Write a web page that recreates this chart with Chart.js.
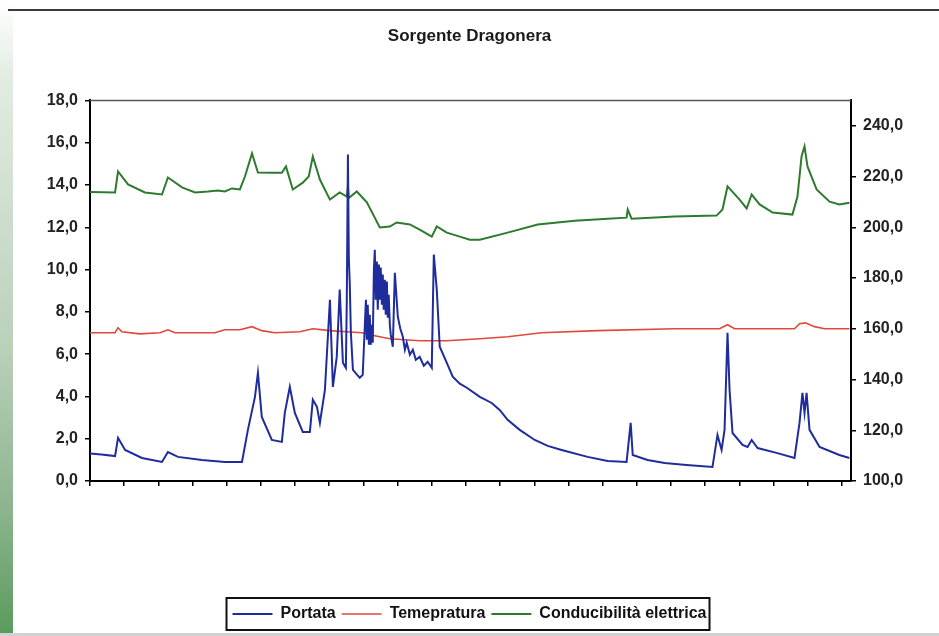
<!DOCTYPE html>
<html>
<head>
<meta charset="utf-8">
<title>Sorgente Dragonera</title>
<script src="https://cdn.jsdelivr.net/npm/chart.js@4.4.1/dist/chart.umd.min.js"></script>
<style>
  html, body { margin: 0; padding: 0; background: #fff; }
  #wrap { position: relative; width: 939px; height: 636px; overflow: hidden; background: #fff; }
  #strip { position: absolute; left: 0; top: 0; width: 13px; height: 636px;
           background: linear-gradient(#ffffff 0%, #e3ece3 12%, #b9d0b9 55%, #8db48e 80%, #5a9a5c 100%); }
  #topline { position: absolute; left: 8px; top: 9px; width: 931px; height: 2px; background: #3a3a3a; }
  #bottomline { position: absolute; left: 0; top: 633px; width: 939px; height: 3px; background: #d2d2d2; }
  canvas { position: absolute; left: 0; top: 0; }
</style>
</head>
<body>
<div id="wrap">
  <div id="strip"></div>
  <div id="topline"></div>
  <div id="bottomline"></div>
  <canvas id="chart" width="939" height="636"></canvas>
</div>
<script>
// x values are days from the start of the record
const portataX = [0, 5, 11.0, 12.3, 15.4, 22.8, 31.6, 34.2, 38.6, 49.1, 59.2, 66.7, 69.3, 72.4, 73.7, 75.4, 79.8, 84.2,
  85.5, 87.7, 89.9, 93.4, 96.5, 97.8, 99.6, 100.9, 103.1, 105.3, 106.6, 108.3, 109.6, 111.0, 112.3, 112.7, 113.2, 113.6,
  114.0, 114.5, 115.4, 118.4, 119.7, 121.1, 121.5, 121.9, 122.4, 122.8, 123.2, 123.7, 124.1, 124.6, 125.0, 125.4, 125.9,
  126.3, 126.8, 127.2, 127.6, 128.1, 128.5, 128.9, 129.4, 129.8, 130.3, 130.7, 131.1, 131.6, 132.0, 132.9, 133.8, 135.1,
  136.2, 137.3, 138.2, 139.0, 140.4, 141.7, 143.0, 144.7, 146.5, 148.2, 150.0, 150.9, 152.2, 153.5, 156.6, 159.2, 162.3,
  165.4, 171.1, 176.3, 179.8, 183.3, 188.6, 195.2, 200.9, 207.0, 218.4, 227.2, 235.5, 237.3, 238.2, 244.7, 252.2, 261.8,
  273.2, 275.4, 277.2, 278.5, 279.8, 280.7, 282.0, 286.4, 288.6, 290.4, 293.0, 301.3, 309.2, 311.4, 312.7, 313.6, 314.5,
  315.8, 320.2, 328.9, 333.3];
const portataY = [1.30, 1.25, 1.18, 2.04, 1.47, 1.09, 0.90, 1.37, 1.14, 0.99, 0.90, 0.90, 2.42, 3.98, 5.12, 3.03, 1.94, 1.85,
  3.22, 4.45, 3.22, 2.32, 2.32, 3.84, 3.51, 2.75, 4.31, 8.57, 4.45, 5.87, 9.05, 5.59, 5.35, 8.50, 15.44, 10.50,
  9.38, 7.00, 5.26, 4.88, 5.02, 8.57, 6.68, 8.34, 6.44, 7.86, 6.44, 7.39, 6.54, 10.00, 10.94, 8.57, 10.38,
  8.10, 10.24, 8.57, 10.09, 8.34, 9.76, 8.10, 9.52, 7.86, 9.43, 7.72, 8.81, 7.39, 6.92, 6.35, 9.85, 7.77,
  7.20, 6.82, 6.21, 6.54, 5.97, 6.21, 5.73, 5.87, 5.45, 5.64, 5.35, 10.71, 9.05, 6.35, 5.59, 4.93, 4.60,
  4.41, 3.98, 3.69, 3.36, 2.89, 2.42, 1.94, 1.66, 1.47, 1.14, 0.95, 0.90, 2.75, 1.23, 0.99, 0.85, 0.76,
  0.66, 2.18, 1.47, 2.42, 7.01, 4.31, 2.27, 1.71, 1.61, 1.94, 1.56, 1.33, 1.09, 2.75, 4.17, 3.22, 4.17,
  2.42, 1.61, 1.23, 1.09];

const tempX = [0, 11.0, 12.3, 14.0, 21.9, 30.7, 34.2, 37.3, 54.8, 59.2, 65.8, 71.1, 75.4, 81.1, 92.1, 97.8, 105.3, 112.7,
  119.3, 122.8, 131.6, 144.7, 156.6, 171.1, 183.3, 198.2, 222.8, 256.6, 276.3, 279.8, 282.9, 309.2, 311.4, 314.0,
  318.0, 322.4, 333.3];
const tempY = [7.01, 7.01, 7.25, 7.06, 6.96, 7.01, 7.15, 7.01, 7.01, 7.15, 7.15, 7.30, 7.11, 7.01, 7.06, 7.20, 7.11, 7.06,
  7.01, 6.92, 6.73, 6.63, 6.63, 6.73, 6.82, 7.01, 7.11, 7.20, 7.20, 7.39, 7.20, 7.20, 7.44, 7.48,
  7.30, 7.20, 7.20];

const condX = [0, 11.0, 12.3, 16.7, 24.1, 31.6, 34.2, 40.4, 46.1, 51.8, 56.1, 59.2, 62.3, 65.8, 68.0, 71.1, 73.7, 80.0,
  84.2, 86.0, 89.0, 93.4, 96.0, 97.8, 100.9, 105.3, 109.6, 112.7, 113.2, 113.6, 117.1, 121.5, 127.2, 131.6, 134.6,
  140.4, 144.7, 150.0, 152.2, 156.6, 162.3, 166.7, 171.1, 183.3, 196.5, 212.7, 227.2, 235.5, 236.0, 237.7, 256.6,
  275.0, 277.6, 279.8, 285.1, 288.2, 290.4, 293.9, 299.6, 308.3, 310.5, 312.3, 313.6, 314.9, 318.9, 324.6, 328.9, 333.3];
const condY = [213.9, 213.7, 222.0, 216.9, 213.7, 212.9, 219.6, 215.7, 213.7, 214.1, 214.5, 214.1, 215.3, 214.9, 220.0, 229.1, 221.6, 221.5,
  221.5, 224.0, 214.9, 217.6, 220.0, 227.9, 218.8, 210.9, 213.7, 212.1, 216.0, 211.5, 214.1, 209.8, 199.9, 200.3, 201.9,
  201.1, 199.1, 196.3, 200.3, 197.9, 196.3, 195.1, 195.1, 197.9, 201.1, 202.6, 203.4, 203.8, 207.0, 203.4, 204.2,
  204.6, 207.0, 216.1, 210.9, 207.4, 212.9, 209.0, 205.8, 205.0, 212.1, 227.9, 231.9, 224.0, 214.9, 210.1, 209.0, 209.7];

const seriesNames = ['Portata', 'Temepratura', 'Conducibilità elettrica'];
const xTicks = [0, 15, 30, 45, 60, 75, 90, 105, 120, 135, 150, 165, 180, 195, 210, 225, 240, 255, 270, 285, 300, 315, 330];
const leftTicks = [0, 2, 4, 6, 8, 10, 12, 14, 16, 18];
const rightTicks = [100, 120, 140, 160, 180, 200, 220, 240];

const pairs = (xs, ys) => xs.map((x, i) => ({ x: x, y: ys[i] }));
const comma = v => Number(v).toFixed(1).replace('.', ',');

Chart.defaults.font.family = "'Liberation Sans', Arial, sans-serif";
Chart.defaults.color = '#222';

// plot top border + box around the legend
const frame = {
  id: 'frame',
  afterDraw(chart) {
    const { ctx, chartArea: a, legend } = chart;
    ctx.save();
    ctx.strokeStyle = '#555';
    ctx.lineWidth = 1.5;
    ctx.beginPath();
    ctx.moveTo(a.left, a.top);
    ctx.lineTo(a.right, a.top);
    ctx.stroke();

    const boxes = legend.legendHitBoxes;
    const first = boxes[0], last = boxes[boxes.length - 1];
    ctx.strokeStyle = '#111';
    ctx.lineWidth = 2;
    ctx.strokeRect(first.left - 6, legend.top - 2, last.left + last.width - first.left + 9, legend.height);
    ctx.restore();
  }
};

new Chart(document.getElementById('chart'), {
  type: 'line',
  data: {
    datasets: [
      { label: seriesNames[0], data: pairs(portataX, portataY), yAxisID: 'y',
        borderColor: '#1f2c9c', borderWidth: 2 },
      { label: seriesNames[1], data: pairs(tempX, tempY), yAxisID: 'y',
        borderColor: '#e0483a', borderWidth: 1.6 },
      { label: seriesNames[2], data: pairs(condX, condY), yAxisID: 'y1',
        borderColor: '#2e7a2e', borderWidth: 2 }
    ]
  },
  options: {
    responsive: false,
    animation: false,
    devicePixelRatio: 1,
    elements: { point: { radius: 0 }, line: { tension: 0 } },
    layout: { padding: { left: 0, right: 0, top: 0, bottom: 4 } },
    scales: {
      x: {
        type: 'linear', min: 0, max: 334,
        afterBuildTicks: s => { s.ticks = xTicks.map(v => ({ value: v })); },
        afterFit: s => { s.height = 119; },
        ticks: { display: false },
        grid: { drawOnChartArea: false, drawTicks: true, tickLength: 5, color: '#000', lineWidth: 1.5 },
        border: { color: '#000', width: 2 }
      },
      y: {
        position: 'left', min: 0, max: 18,
        afterBuildTicks: s => { s.ticks = leftTicks.map(v => ({ value: v })); },
        afterFit: s => { s.width = 90; },
        ticks: { callback: comma, padding: 7, font: { size: 16, weight: 'bold' }, color: '#222' },
        grid: { drawOnChartArea: false, tickLength: 5, color: '#000', lineWidth: 1.5 },
        border: { color: '#000', width: 2 }
      },
      y1: {
        position: 'right', min: 100, max: 250,
        afterBuildTicks: s => { s.ticks = rightTicks.map(v => ({ value: v })); },
        afterFit: s => { s.width = 88; },
        ticks: { callback: comma, padding: 7, font: { size: 16, weight: 'bold' }, color: '#222' },
        grid: { drawOnChartArea: false, tickLength: 5, color: '#000', lineWidth: 1.5 },
        border: { color: '#000', width: 2 }
      }
    },
    plugins: {
      title: {
        display: true, text: 'Sorgente Dragonera', color: '#1a1a1a',
        font: { size: 17, weight: 'bold' },
        padding: { top: 26, bottom: 54 }
      },
      legend: {
        position: 'bottom',
        labels: {
          usePointStyle: true, pointStyle: 'line', pointStyleWidth: 40, padding: 6,
          color: '#111', font: { size: 16, weight: 'bold' }
        }
      },
      tooltip: { enabled: false }
    }
  },
  plugins: [frame]
});
</script>
</body>
</html>
